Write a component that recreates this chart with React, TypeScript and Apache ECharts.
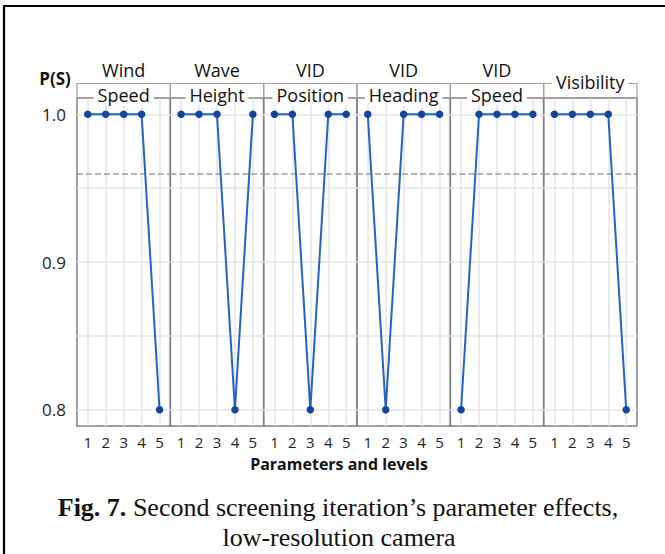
import React, { useEffect, useRef } from 'react';
import * as echarts from 'echarts';

const panelTop = ['Wind', 'Wave', 'VID', 'VID', 'VID', ''];
const panelBottom = ['Speed', 'Height', 'Position', 'Heading', 'Speed', 'Visibility'];
const levels = [1, 2, 3, 4, 5];
const windSpeed = [1.0, 1.0, 1.0, 1.0, 0.8];
const waveHeight = [1.0, 1.0, 1.0, 0.8, 1.0];
const vidPosition = [1.0, 1.0, 0.8, 1.0, 1.0];
const vidHeading = [1.0, 0.8, 1.0, 1.0, 1.0];
const vidSpeed = [0.8, 1.0, 1.0, 1.0, 1.0];
const visibility = [1.0, 1.0, 1.0, 1.0, 0.8];
const meanPS = 0.96;
const yTickLabels = [0.8, 0.9, 1.0];
const yGridValues = [0.8, 0.85, 0.9, 0.95, 1.0];

const seriesValues = [windSpeed, waveHeight, vidPosition, vidHeading, vidSpeed, visibility];

const SANS = '"Open Sans", "Noto Sans", sans-serif';
const SERIF = '"Liberation Serif", "Times New Roman", serif';

export default function App() {
  const ref = useRef<HTMLDivElement>(null);
  useEffect(() => {
    if (!ref.current) return;
    const chart = echarts.init(ref.current, null, { renderer: 'svg' });
    const left0 = 77;
    const panelW = 93.33;
    const top = 98;
    const bottom = 554 - 426;

    const grids: any[] = [];
    const xAxes: any[] = [];
    const yAxes: any[] = [];
    const series: any[] = [];
    const graphics: any[] = [];

    seriesValues.forEach((vals, i) => {
      const left = left0 + i * panelW;
      grids.push({
        left,
        width: panelW,
        top,
        bottom,
        show: true,
        borderColor: '#7f7f7f',
        borderWidth: 1.5,
        backgroundColor: 'transparent',
      });
      xAxes.push({
        type: 'value',
        gridIndex: i,
        min: 0.4,
        max: 5.6,
        axisLine: { show: false },
        axisTick: { show: false, customValues: levels },
        axisLabel: {
          customValues: levels,
          fontSize: 15,
          color: '#222',
          fontFamily: SANS,
          margin: 8,
        },
        splitLine: { show: true, lineStyle: { color: '#e4e4e4', width: 1.5 } },
      });
      yAxes.push({
        type: 'value',
        gridIndex: i,
        min: 0.789,
        max: 1.011,
        axisLine: { show: false },
        axisTick: { show: false, customValues: yGridValues },
        axisLabel: {
          show: i === 0,
          customValues: yTickLabels,
          formatter: (v: number) => v.toFixed(1),
          fontSize: 17,
          color: '#222',
          fontFamily: SANS,
          margin: 11,
        },
        splitLine: { show: true, lineStyle: { color: '#e4e4e4', width: 1.5 } },
      });
      series.push({
        type: 'line',
        xAxisIndex: i,
        yAxisIndex: i,
        data: levels.map((l, k) => [l, vals[k]]),
        symbol: 'circle',
        symbolSize: 7.5,
        itemStyle: { color: '#13459c' },
        lineStyle: { color: '#2762c2', width: 2 },
        clip: false,
        z: 5,
        markLine: {
          silent: true,
          symbol: 'none',
          label: { show: false },
          lineStyle: { type: 'dashed', color: '#9a9a9a', width: 1.5 },
          data: [{ yAxis: meanPS }],
        },
      });

      // header box
      graphics.push({
        type: 'rect',
        z: 50,
        shape: { x: left, y: 83.5, width: panelW, height: 14.5 },
        style: { fill: 'none', stroke: '#a0a0a0', lineWidth: 1.2 },
      });
      const cx = left + panelW / 2;
      if (panelTop[i]) {
        graphics.push({
          type: 'text',
          z: 60,
          x: cx,
          y: 70,
          style: {
            text: panelTop[i],
            fontSize: 18,
            fontFamily: SANS,
            fill: '#111',
            align: 'center',
            verticalAlign: 'middle',
          },
        });
        graphics.push({
          type: 'text',
          z: 60,
          x: cx,
          y: 95,
          style: {
            text: panelBottom[i],
            fontSize: 18,
            fontFamily: SANS,
            fill: '#111',
            align: 'center',
            verticalAlign: 'middle',
            backgroundColor: '#fff',
            padding: [1, 4, 1, 4],
          },
        });
      } else {
        graphics.push({
          type: 'text',
          z: 60,
          x: cx,
          y: 82,
          style: {
            text: panelBottom[i],
            fontSize: 18,
            fontFamily: SANS,
            fill: '#111',
            align: 'center',
            verticalAlign: 'middle',
            backgroundColor: '#fff',
            padding: [2, 4, 2, 4],
          },
        });
      }
    });

    graphics.push(
      {
        type: 'rect',
        z: 100,
        shape: { x: 4, y: 6, width: 720, height: 620 },
        style: { fill: 'none', stroke: '#000', lineWidth: 2.2 },
      },
      {
        type: 'text',
        z: 60,
        x: 55,
        y: 78,
        style: {
          text: 'P(S)',
          fontSize: 17,
          fontWeight: 'bold',
          fontFamily: SANS,
          fill: '#111',
          align: 'center',
          verticalAlign: 'middle',
        },
      },
      {
        type: 'text',
        z: 60,
        x: 339,
        y: 464,
        style: {
          text: 'Parameters and levels',
          fontSize: 16,
          fontWeight: 'bold',
          fontFamily: SANS,
          fill: '#111',
          align: 'center',
          verticalAlign: 'middle',
        },
      },
      {
        type: 'text',
        z: 60,
        x: 338,
        y: 507,
        style: {
          text: '{b|Fig. 7.} Second screening iteration\u2019s parameter effects,',
          fontSize: 26,
          fontFamily: SERIF,
          fill: '#111',
          align: 'center',
          verticalAlign: 'middle',
          rich: {
            b: { fontSize: 26, fontFamily: SERIF, fontWeight: 'bold', fill: '#111' },
          },
        },
      },
      {
        type: 'text',
        z: 60,
        x: 339,
        y: 537,
        style: {
          text: 'low-resolution camera',
          fontSize: 26,
          fontFamily: SERIF,
          fill: '#111',
          align: 'center',
          verticalAlign: 'middle',
        },
      }
    );

    chart.setOption({
      animation: false,
      backgroundColor: '#fff',
      grid: grids,
      xAxis: xAxes,
      yAxis: yAxes,
      series,
      graphic: graphics,
    });
    return () => chart.dispose();
  }, []);
  return (
    <div
      ref={ref}
      style={{ position: 'absolute', left: 0, top: 0, width: 665, height: 554 }}
    />
  );
}
